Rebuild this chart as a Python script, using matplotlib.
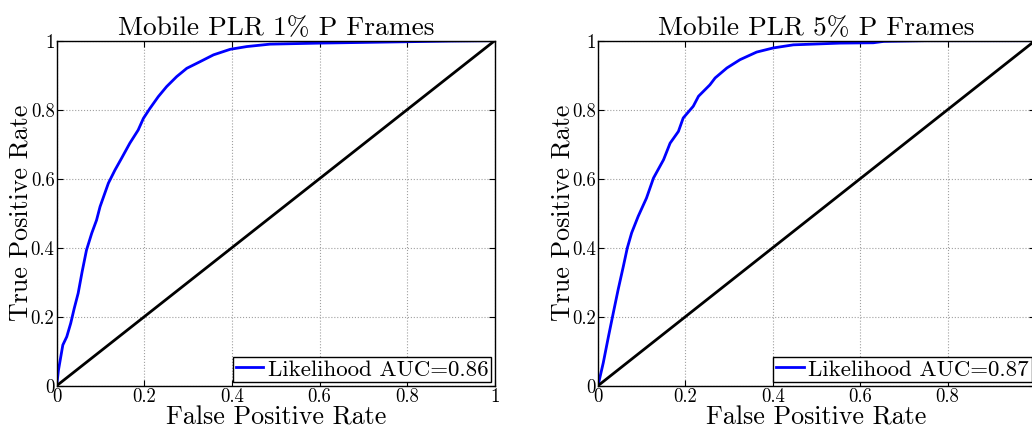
import matplotlib
matplotlib.use("Agg")
import matplotlib.pyplot as plt
import numpy as np

plt.rcParams['font.family'] = 'serif'
plt.rcParams['font.serif'] = ['cmr10']
plt.rcParams['mathtext.fontset'] = 'cm'
plt.rcParams['axes.formatter.use_mathtext'] = True

# ROC curve for PLR 1%
fpr_1 = [0.0, 0.004, 0.014, 0.023, 0.032, 0.040, 0.049, 0.058, 0.068, 0.080, 0.091,
         0.099, 0.118, 0.133, 0.148, 0.167, 0.186, 0.198, 0.213, 0.232, 0.251, 0.274,
         0.297, 0.327, 0.358, 0.396, 0.434, 0.487, 0.60, 0.70, 0.80, 0.90, 1.0]
tpr_1 = [0.0, 0.045, 0.118, 0.142, 0.181, 0.224, 0.268, 0.330, 0.393, 0.442, 0.480,
         0.519, 0.587, 0.625, 0.659, 0.703, 0.741, 0.775, 0.804, 0.838, 0.867, 0.896,
         0.920, 0.939, 0.959, 0.975, 0.983, 0.990, 0.993, 0.995, 0.997, 0.999, 1.0]

# ROC curve for PLR 5%
fpr_5 = [0.0, 0.012, 0.024, 0.035, 0.046, 0.058, 0.067, 0.077, 0.092, 0.111, 0.127,
         0.150, 0.165, 0.184, 0.195, 0.218, 0.230, 0.256, 0.268, 0.295, 0.325, 0.363,
         0.401, 0.447, 0.554, 0.630, 0.654, 0.75, 1.0]
tpr_5 = [0.0, 0.066, 0.143, 0.211, 0.278, 0.346, 0.399, 0.443, 0.491, 0.544, 0.602,
         0.655, 0.703, 0.737, 0.776, 0.810, 0.839, 0.872, 0.892, 0.921, 0.945, 0.967,
         0.979, 0.988, 0.993, 0.994, 0.998, 1.0, 1.0]

titles = ['Mobile PLR 1% P Frames', 'Mobile PLR 5% P Frames']
labels = ['Likelihood AUC=0.86', 'Likelihood AUC=0.87']
ticks = [0, 0.2, 0.4, 0.6, 0.8, 1]
tick_labels = ['0', '0.2', '0.4', '0.6', '0.8', '1']

W, H = 1032, 434
fig = plt.figure(figsize=(W / 100, H / 100), dpi=100)
ax_l = fig.add_axes([56.7 / W, (H - 385.7) / H, 438 / W, 345 / H])
ax_r = fig.add_axes([598 / W, (H - 385.7) / H, 437 / W, 345 / H])

for ax, fpr, tpr, title, lab in [(ax_l, fpr_1, tpr_1, titles[0], labels[0]),
                                 (ax_r, fpr_5, tpr_5, titles[1], labels[1])]:
    ax.plot(fpr, tpr, color='#0000ff', lw=2.0, label=lab)
    ax.plot([0, 1], [0, 1], color='black', lw=2.0)
    ax.set_xlim(0, 1)
    ax.set_ylim(0, 1)
    ax.set_xticks(ticks)
    # the right panel's last label falls outside the picture
    ax.set_xticklabels(tick_labels if ax is ax_l else tick_labels[:-1] + [''])
    ax.set_yticks(ticks)
    ax.set_yticklabels(tick_labels)
    ax.tick_params(direction='in', top=True, right=True, length=4, width=0.8,
                   labelsize=13.5, pad=1.5)
    ax.grid(True, linestyle=':', color='#a0a0a0', lw=0.8)
    for s in ax.spines.values():
        s.set_linewidth(1.0)
    ax.set_title(title, fontsize=19.7, pad=4)
    ax.set_xlabel('False Positive Rate', fontsize=18.7, labelpad=0)
    ax.set_ylabel('True Positive Rate', fontsize=18.7, labelpad=-1.5)
    leg = ax.legend(loc='lower right', fontsize=16.5, fancybox=False, framealpha=1,
                    edgecolor='black', borderaxespad=0.15, borderpad=0.12,
                    handlelength=1.2, handletextpad=0.2)
    leg.get_frame().set_linewidth(1.0)

fig.savefig('out.png', dpi=100)
